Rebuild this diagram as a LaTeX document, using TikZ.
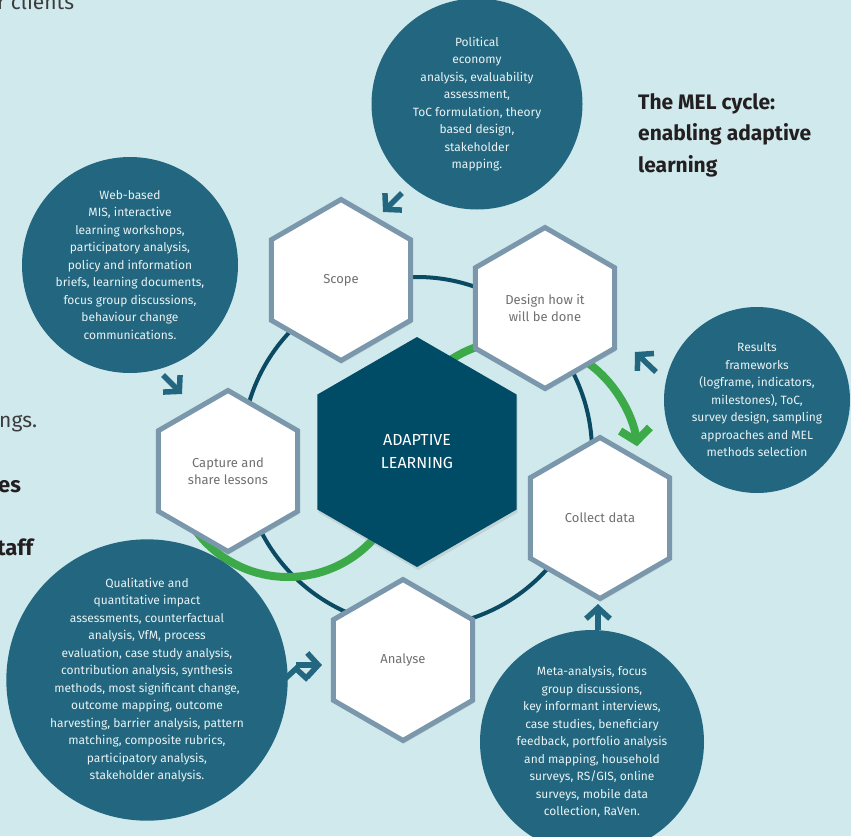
\documentclass[tikz,border=0pt]{standalone}
\usepackage{fontspec}
\setmainfont{Fira Sans}
\usetikzlibrary{shapes.geometric,arrows.meta,shadows}
\definecolor{bgcyan}{HTML}{D0E9EC}
\definecolor{bubble}{HTML}{22677F}
\definecolor{bubtext}{HTML}{E9F2F4}
\definecolor{core}{HTML}{004B66}
\definecolor{ringc}{HTML}{0A4A62}
\definecolor{hexrim}{HTML}{7A97AC}
\definecolor{cyclegreen}{HTML}{3DAA4A}
\definecolor{labelgray}{HTML}{707070}
\definecolor{headc}{HTML}{231F20}
\definecolor{fraggray}{HTML}{3C3C3C}
\newcommand{\bubfont}{\fontsize{12}{17.5}\selectfont}
\newcommand{\hexfont}{\fontsize{13}{17}\selectfont}

\begin{document}
\begin{tikzpicture}[x=1pt, y=-1pt,
	hexa/.style={regular polygon, regular polygon sides=6, shape border rotate=30, minimum size=161pt, inner sep=0pt, fill=white, draw=hexrim, line width=5pt, text=labelgray, align=center, font=\hexfont, drop shadow={shadow xshift=1pt, shadow yshift=-3pt, opacity=.2}},
	bubb/.style={circle, inner sep=0pt, fill=bubble, text=bubtext, align=center, font=\bubfont},
	chev/.style={draw=bubble, line width=5.5pt, -{Straight Barb[length=11pt, width=24pt]}},
	frag/.style={anchor=base west, inner sep=0pt, font=\fontsize{21}{25}\selectfont, text=fraggray}]
	\useasboundingbox (0,0) rectangle (851,836);
	\fill[bgcyan] (0,0) rectangle (851,836);
	% page text cut off at the left
	\node[frag] (clients) at (-3,9) {r clients};
	\node[frag] (ngs) at (-1,427) {ngs.};
	\node[frag, font=\fontsize{22}{26}\bfseries, text=headc] (es) at (-2,492) {es};
	\node[frag, font=\fontsize{22}{26}\bfseries, text=headc] (taff) at (-3,555) {taff};
	\node[anchor=north west, inner sep=0pt, align=left, text=headc, font=\fontsize{21}{31.5}\bfseries] (title) at (638,93) {The MEL cycle:\\enabling adaptive\\learning};
	% the cycle
	\coordinate (hub) at (417,452);
	\draw[ringc, line width=4pt] (hub) circle[radius=175];
	\draw[cyclegreen, line width=8pt, -{Straight Barb[length=12pt, width=30pt]}] (517,461) ++(-130:121) arc[start angle=-130, end angle=-7, radius=121];
	\draw[cyclegreen, line width=8pt] (288,462) ++(30:115) arc[start angle=30, end angle=148, radius=115];
	\node[regular polygon, regular polygon sides=6, shape border rotate=30, minimum size=230pt, inner sep=0pt, fill=core, text=white, align=center, font=\fontsize{16}{23}\selectfont, drop shadow={shadow xshift=1pt, shadow yshift=-3pt, opacity=.2}] (core) at (hub) {ADAPTIVE\\LEARNING};
	\node[hexa] (scope) at (341,280) {Scope};
	\node[hexa] (design) at (545,308) {Design how it\\will be done};
	\node[hexa] (collect) at (600,518) {Collect data};
	\node[hexa] (analyse) at (403,660) {Analyse};
	\node[hexa] (capture) at (228,471) {Capture and\\share lessons};
	% methods
	\node[bubb, minimum size=211pt] (pea) at (477,104) {Political\\economy\\analysis, evaluability\\assessment,\\ToC formulation, theory\\based design,\\stakeholder\\mapping.};
	\node[bubb, minimum size=216pt] (mis) at (130,265) {Web-based\\MIS, interactive\\learning workshops,\\participatory analysis,\\policy and information\\briefs, learning documents,\\focus group discussions,\\behaviour change\\communications.};
	\node[bubb, minimum size=186pt] (rfw) at (757,400) {Results\\frameworks\\(logframe, indicators,\\milestones), ToC,\\survey design, sampling\\approaches and MEL\\methods selection};
	\node[bubb, minimum size=264pt] (qual) at (147,680) {Qualitative and\\quantitative impact\\assessments, counterfactual\\analysis, VfM, process\\evaluation, case study analysis,\\contribution analysis, synthesis\\methods, most significant change,\\outcome mapping, outcome\\harvesting, barrier analysis, pattern\\matching, composite rubrics,\\participatory analysis,\\stakeholder analysis.};
	\node[bubb, minimum size=224pt] (meta) at (592,742) {Meta-analysis, focus\\group discussions,\\key informant interviews,\\case studies, beneficiary\\feedback, portfolio analysis\\and mapping, household\\surveys, RS/GIS, online\\surveys, mobile data\\collection, RaVen.};
	% arrows into the steps
	\coordinate (pea-a) at (402,193);
	\coordinate (pea-b) at (383,212);
	\coordinate (mis-a) at (163,375);
	\coordinate (mis-b) at (182,394);
	\coordinate (rfw-a) at (656,372);
	\coordinate (rfw-b) at (635,352);
	\coordinate (meta-a) at (598,630);
	\coordinate (meta-b) at (598,604);
	\coordinate (qual-a) at (296,665);
	\coordinate (qual-b) at (322,665);
	\path[chev]
	(pea-a) edge (pea-b)
	(mis-a) edge (mis-b)
	(rfw-a) edge (rfw-b)
	(meta-a) edge (meta-b)
	(qual-a) edge (qual-b);
\end{tikzpicture}
\end{document}
